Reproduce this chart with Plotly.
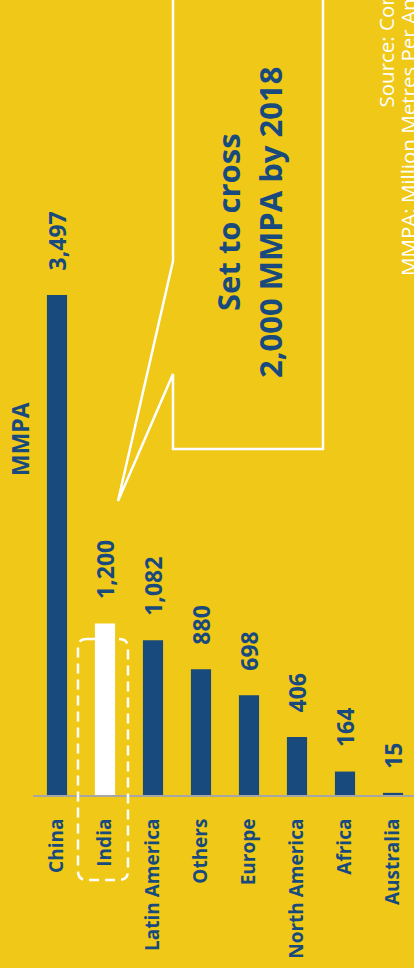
import plotly.graph_objects as go

# ---- data ----
categories = ["China", "India", "Latin America", "Others", "Europe",
              "North America", "Africa", "Australia"]
values = [3497, 1200, 1082, 880, 698, 406, 164, 15]
highlight = "India"
axis_title = "MMPA"
callout_lines = ["Set to cross", "2,000 MMPA by 2018"]
source_lines = ["Source: Company Reports", "MMPA: Million Metres Per Annum"]

# ---- style ----
BG = "#F0C818"
NAVY = "#184A7E"
WHITE = "#FFFFFF"
FONT = "Open Sans"
W, H = 414, 968
ML, MR, MT, MB = 33, 0, 0, 173
PW, PH = W - ML - MR, H - MT - MB


def px(x, y):
    """pixel -> paper coordinates string"""
    return f"{(x - ML) / PW:.5f},{(H - MB - y) / PH:.5f}"


def pxx(x):
    return (x - ML) / PW


def pxy(y):
    return (H - MB - y) / PH


bar_colors = [WHITE if c == highlight else NAVY for c in categories]

fig = go.Figure()
fig.add_trace(go.Bar(
    x=categories, y=values,
    marker=dict(color=bar_colors, line=dict(width=0)),
    hoverinfo="skip",
))

annotations = []
# value labels
for c, v in zip(categories, values):
    annotations.append(dict(
        x=c, y=v, xref="x", yref="y", text=f"{v:,}",
        textangle=-90, showarrow=False, xanchor="center", yanchor="bottom",
        yshift=22,
        font=dict(family=FONT, size=23, color=NAVY, weight="bold"),
    ))

# axis title
annotations.append(dict(
    x=pxx(20), y=pxy(439), xref="paper", yref="paper", text=axis_title,
    textangle=-90, showarrow=False, xanchor="center", yanchor="middle",
    font=dict(family=FONT, size=23, color=NAVY, weight="bold"),
))

# callout text
for (cx, cy), t in zip([(228, 222), (270, 223)], callout_lines):
    annotations.append(dict(
        x=pxx(cx), y=pxy(cy), xref="paper", yref="paper", text=t,
        textangle=-90, showarrow=False, xanchor="center", yanchor="middle",
        font=dict(family=FONT, size=31, color=NAVY, weight="bold"),
    ))

# source text (runs off the top of the page)
for (sx, sy), t in zip([(386, 110), (408, 278)], source_lines):
    annotations.append(dict(
        x=pxx(sx), y=pxy(sy), xref="paper", yref="paper", text=t,
        textangle=-90, showarrow=False, xanchor="center", yanchor="bottom",
        font=dict(family=FONT, size=20.5, color=WHITE),
    ))

# callout outline
callout_pts = [(173, -20), (173, 261), (118, 501), (173, 374), (173, 449),
               (323, 449), (323, -20)]
callout_path = "M " + " L ".join(px(x, y) for x, y in callout_pts) + " Z"

# dashed rounded rectangle around India
x0, x1, y0, y1, r = 78, 128, 639, 880, 9
rr = (f"M {px(x0 + r, y0)} L {px(x1 - r, y0)} Q {px(x1, y0)} {px(x1, y0 + r)} "
      f"L {px(x1, y1 - r)} Q {px(x1, y1)} {px(x1 - r, y1)} "
      f"L {px(x0 + r, y1)} Q {px(x0, y1)} {px(x0, y1 - r)} "
      f"L {px(x0, y0 + r)} Q {px(x0, y0)} {px(x0 + r, y0)} Z")

shapes = [
    dict(type="path", path=callout_path, xref="paper", yref="paper",
         line=dict(color=WHITE, width=2.5), fillcolor="rgba(0,0,0,0)",
         layer="above"),
    dict(type="path", path=rr, xref="paper", yref="paper",
         line=dict(color=WHITE, width=2.5, dash="10px,6px"),
         fillcolor="rgba(0,0,0,0)", layer="above"),
]

fig.update_layout(
    width=W, height=H, autosize=False,
    margin=dict(l=ML, r=MR, t=MT, b=MB, pad=0),
    paper_bgcolor=BG, plot_bgcolor=BG,
    showlegend=False,
    bargap=0.58,
    annotations=annotations,
    shapes=shapes,
    xaxis=dict(
        range=[-0.5, 7.4375], showline=True, linecolor="#A6A6A6", linewidth=2,
        showgrid=False, zeroline=False, ticks="", tickangle=-90,
        ticklabelstandoff=14,
        tickfont=dict(family=FONT, size=19, color=NAVY, weight="bold"),
        fixedrange=True,
    ),
    yaxis=dict(range=[0, 5560], visible=False, fixedrange=True),
)

fig.write_html(
    "out.html",
    config={"displayModeBar": False},
    post_script="document.body.style.margin='0';"
                "document.body.style.overflow='hidden';"
                f"document.body.style.background='{BG}';",
)
